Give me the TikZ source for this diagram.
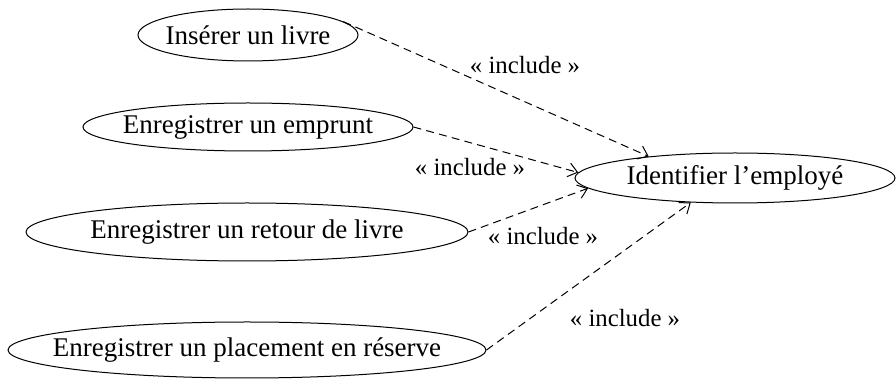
\documentclass[tikz,border=0pt]{standalone}
\usepackage{fontspec}
\setmainfont{Liberation Serif}
\usetikzlibrary{arrows.meta,shapes.geometric}
\tikzset{
  usecase/.style={ellipse,draw=black,line width=0.5pt,inner sep=-60pt,align=center,font=\fontsize{13.5}{16}\selectfont},
  inclarrow/.style={-{Straight Barb[length=4.5pt,width=7pt]},line width=0.5pt,dash pattern=on 4pt off 2.6pt},
  incllabel/.style={font=\fontsize{12.4}{15}\selectfont,inner sep=0pt},
}
\begin{document}
\begin{tikzpicture}[x=0.5pt,y=-0.5pt]
  \useasboundingbox (0,0) rectangle (896,379);

  \node[usecase, minimum width=110pt, minimum height=26pt] (insert)  at (248,35)  {Insérer un livre};
  \node[usecase, minimum width=165pt, minimum height=24pt] (emprunt) at (248,127) {Enregistrer un emprunt};
  \node[usecase, minimum width=221pt, minimum height=29pt] (retour)  at (247,232) {Enregistrer un retour de livre};
  \node[usecase, minimum width=239pt, minimum height=28pt] (reserve) at (247,350) {Enregistrer un placement en réserve};
  \node[usecase, minimum width=160pt, minimum height=25pt] (ident)   at (735,178) {Identifier l’employé};

  \draw[inclarrow] (insert.8)   -- (ident.166);
  \draw[inclarrow] (emprunt.east) -- (ident.178);
  \draw[inclarrow] (retour.east)  -- (ident.184);
  \draw[inclarrow] (reserve.east) -- (ident.209);

  \node[incllabel] (lbinsert)  at (525,65)  {« include »};
  \node[incllabel] (lbemprunt) at (470,167) {« include »};
  \node[incllabel] (lbretour)  at (543,236) {« include »};
  \node[incllabel] (lbreserve) at (625,318) {« include »};
\end{tikzpicture}
\end{document}
